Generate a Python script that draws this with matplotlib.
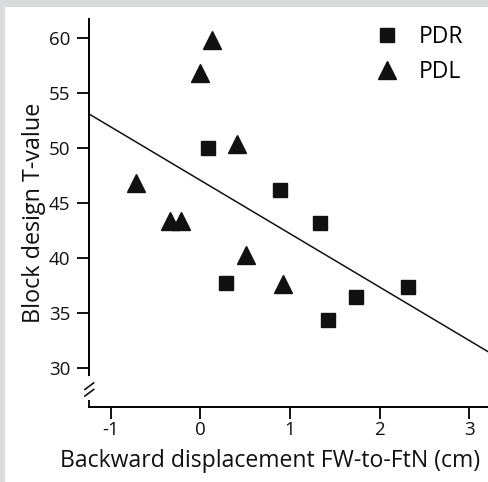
import matplotlib
matplotlib.use("Agg")
import matplotlib.pyplot as plt
from matplotlib.patches import Rectangle

plt.rcParams['font.family'] = ['Open Sans', 'DejaVu Sans']

# PDR (squares)
pdr_x = [0.09, 0.29, 0.89, 1.33, 1.42, 1.74, 2.32]
pdr_y = [50.0, 37.7, 46.2, 43.2, 34.4, 36.5, 37.4]

# PDL (triangles)
pdl_x = [0.13, 0.00, 0.41, -0.72, -0.34, -0.22, 0.51, 0.92]
pdl_y = [59.8, 56.8, 50.4, 46.8, 43.4, 43.4, 40.3, 37.65]

# regression line
fit_slope = -4.85
fit_intercept = 47.07

x_ticks = [-1, 0, 1, 2, 3]
y_ticks = [30, 35, 40, 45, 50, 55, 60]

XMIN, XMAX = -1.24, 3.21
YMIN, YMAX = 26.5, 61.7

fig = plt.figure(figsize=(4.88, 4.82), dpi=100, facecolor='#d9dadc')
fig.patches.append(Rectangle((5 / 488, 0), 1, 1 - 7 / 482, transform=fig.transFigure,
                             facecolor='white', edgecolor='none', zorder=-10))

ax = fig.add_axes([89.3 / 488, 1 - 406.7 / 482, 1 - 89.3 / 488, (406.7 - 19.3) / 482])
ax.set_facecolor('none')

ax.plot(pdr_x, pdr_y, 's', color='#111111', markersize=9.4, label='PDR', clip_on=False)
ax.plot(pdl_x, pdl_y, '^', color='#111111', markersize=13.5, label='PDL', clip_on=False)

ax.plot([XMIN, XMAX], [fit_intercept + fit_slope * XMIN, fit_intercept + fit_slope * XMAX],
        color='#111111', lw=1.1)

ax.set_xlim(XMIN, XMAX)
ax.set_ylim(YMIN, YMAX)
ax.set_xticks(x_ticks)
ax.set_xticklabels([str(v) for v in x_ticks])
ax.set_yticks(y_ticks)

for s in ['top', 'right']:
    ax.spines[s].set_visible(False)
ax.spines['bottom'].set_linewidth(1.4)
ax.spines['left'].set_linewidth(1.4)
ax.spines['left'].set_bounds(29.4, YMAX)

# bottom piece of the y axis and the break marks
ax.plot([XMIN, XMIN], [YMIN, 27.1], color='#111111', lw=1.4, clip_on=False, solid_capstyle='butt')
tr = ax.transAxes
for y0 in [0.0445, 0.0275]:
    ax.plot([-0.011, 0.011], [y0, y0 + 0.017], color='#111111', lw=1.2, transform=tr, clip_on=False)

ax.tick_params(axis='both', direction='out', length=8.6, width=1.4, labelsize=13.5,
               colors='#111111')
ax.tick_params(axis='y', pad=5)
ax.tick_params(axis='x', pad=2)

ax.set_xlabel('Backward displacement FW-to-FtN (cm)', fontsize=16.6, color='#111111',
              labelpad=7, x=0.453)
ax.set_ylabel('Block design T-value', fontsize=16.8, color='#111111', labelpad=2)

ax.legend(loc='upper left', bbox_to_anchor=(0.666, 1.008), frameon=False, fontsize=16.5,
          handletextpad=0.41, labelspacing=0.46, borderaxespad=0)

fig.savefig('out.png', dpi=100, facecolor=fig.get_facecolor())
